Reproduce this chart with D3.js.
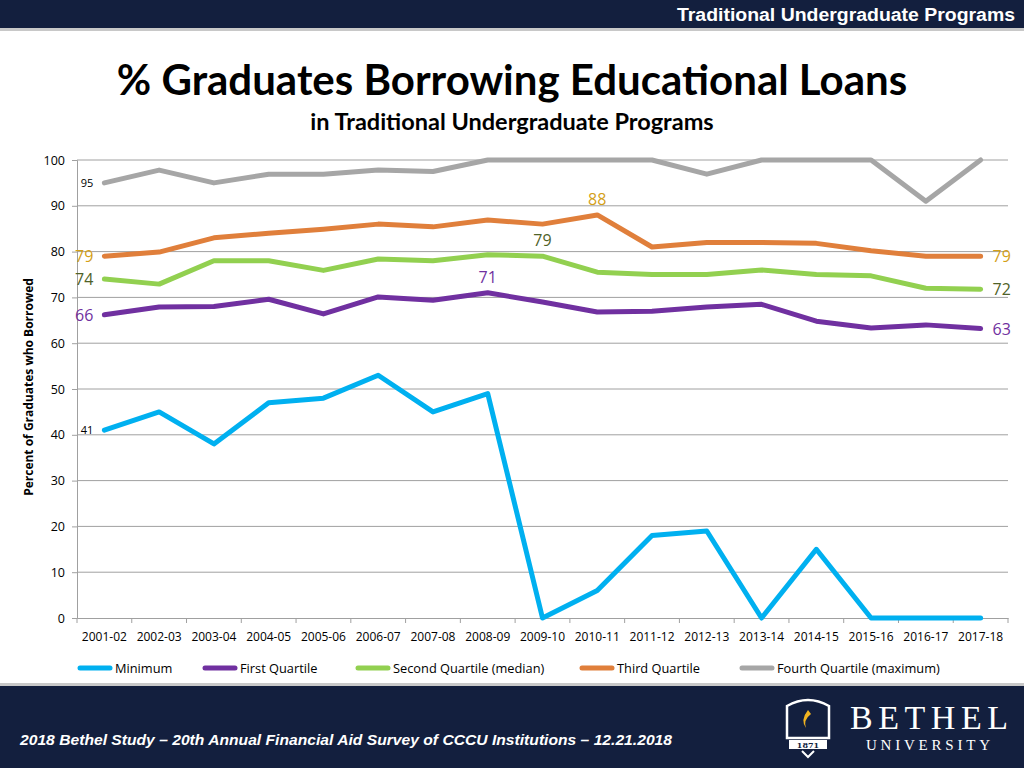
<!DOCTYPE html>
<html><head><meta charset="utf-8">
<script src="https://cdn.jsdelivr.net/npm/d3@7/dist/d3.min.js"></script>
<style>body{margin:0;background:#fff}svg{display:block}</style>
</head><body>
<svg id="c" width="1024" height="768"></svg>
<script>
const years = ["2001-02","2002-03","2003-04","2004-05","2005-06","2006-07","2007-08","2008-09","2009-10","2010-11","2011-12","2012-13","2013-14","2014-15","2015-16","2016-17","2017-18"];
const minimum = [41,45,38,47,48,53,45,49,0,6,18,19,0,15,0,0,0];
const firstQ = [66.2,67.9,68,69.6,66.4,70.1,69.4,71,69,66.8,67,67.9,68.5,64.8,63.3,64,63.2];
const secondQ = [74,72.9,78,78,75.9,78.4,78,79.3,79,75.5,75,75,76,75,74.7,72,71.8];
const thirdQ = [79,79.9,83,84,84.9,86,85.4,86.9,86,88,81,82,82,81.8,80.2,79,79];
const fourthQ = [95,97.8,95,96.9,96.9,97.8,97.5,100,100,100,100,96.9,100,100,100,91,100];
const seriesNames = ["Minimum","First Quartile","Second Quartile (median)","Third Quartile","Fourth Quartile (maximum)"];
const seriesColors = ["#00b0f0","#7030a0","#92d050","#e07f3b","#a6a6a6"];
const yTicks = [0,10,20,30,40,50,60,70,80,90,100];
// data labels: [seriesIndex, pointIndex, text, placement, color, size]
const dataLabels = [
  [4,0,"95","left","#000",11],
  [3,0,"79","left","#d4a017",16],
  [2,0,"74","left","#4f6228",16],
  [1,0,"66","left","#7030a0",16],
  [0,0,"41","left","#000",11],
  [3,9,"88","above","#d4a017",16],
  [2,8,"79","above","#4f6228",16],
  [1,7,"71","above","#7030a0",16],
  [3,16,"79","right","#d4a017",16],
  [2,16,"72","right","#4f6228",16],
  [1,16,"63","right","#7030a0",16]
];
const allSeries = [minimum, firstQ, secondQ, thirdQ, fourthQ];

const svg = d3.select("#c");
const F = "'Open Sans', sans-serif";

// header
svg.append("rect").attr("x",0).attr("y",0).attr("width",1024).attr("height",28).attr("fill","#131f3e");
svg.append("rect").attr("x",0).attr("y",28).attr("width",1024).attr("height",3).attr("fill","#c8c8c8");
svg.append("text").attr("x",677).attr("y",21).attr("fill","#fff")
  .attr("font-family","'Liberation Sans', Arial, sans-serif").attr("font-weight","bold").attr("font-size",18)
  .attr("textLength",338).attr("lengthAdjust","spacingAndGlyphs")
  .text("Traditional Undergraduate Programs");

// title
svg.append("text").attr("x",512).attr("y",95).attr("text-anchor","middle").attr("font-family","Lato, sans-serif")
  .attr("font-weight","bold").attr("font-size",42).attr("fill","#000").text("% Graduates Borrowing Educational Loans");
svg.append("text").attr("x",512).attr("y",130).attr("text-anchor","middle").attr("font-family","Lato, sans-serif")
  .attr("font-weight","bold").attr("font-size",23.5).attr("fill","#000").text("in Traditional Undergraduate Programs");

const L=77, R=1008, T=160, B=618;
const x = d3.scaleBand().domain(years).range([L,R]);
const y = d3.scaleLinear().domain([0,100]).range([B,T]);
const cx = d => x(d)+x.bandwidth()/2;

// grid
svg.append("g").selectAll("line").data(yTicks.filter(d=>d>0)).join("line")
  .attr("x1",L).attr("x2",R).attr("y1",d=>y(d)).attr("y2",d=>y(d)).attr("stroke","#a0a0a0").attr("stroke-width",1);

// y axis
const ya = svg.append("g").attr("transform",`translate(${L},0)`).call(d3.axisLeft(y).tickValues(yTicks).tickSize(5).tickPadding(7));
ya.selectAll("path,line").attr("stroke","#a0a0a0");
ya.selectAll("text").attr("font-family",F).attr("font-size",12.5).attr("fill","#000");
// x axis
const xa = svg.append("g").attr("transform",`translate(0,${B})`).call(d3.axisBottom(x).tickSize(0).tickPadding(14));
xa.select("path").attr("stroke","#a0a0a0");
xa.selectAll("text").attr("font-family",F).attr("font-size",12).attr("fill","#000");
svg.append("g").selectAll("line").data(years.concat(["end"])).join("line")
  .attr("x1",(d,i)=>L+i*x.bandwidth()).attr("x2",(d,i)=>L+i*x.bandwidth())
  .attr("y1",B).attr("y2",B+5).attr("stroke","#a0a0a0");

svg.append("text").attr("transform","translate(33,387) rotate(-90)").attr("text-anchor","middle")
  .attr("font-family",F).attr("font-weight","bold").attr("font-size",12).attr("fill","#000").text("Percent of Graduates who Borrowed");

// lines
const line = d3.line().x((d,i)=>cx(years[i])).y(d=>y(d));
svg.append("g").selectAll("path").data(allSeries).join("path")
  .attr("d",d=>line(d)).attr("fill","none").attr("stroke",(d,i)=>seriesColors[i])
  .attr("stroke-width",5).attr("stroke-linejoin","round").attr("stroke-linecap","round");

// data labels
svg.append("g").selectAll("text").data(dataLabels).join("text")
  .attr("x",d=>{const px=cx(years[d[1]]); return d[3]==="left"?px-11:d[3]==="right"?px+12:px;})
  .attr("y",d=>{const py=y(allSeries[d[0]][d[1]]); return d[3]==="above"?py-10:py+(d[5]>12?6:4);})
  .attr("text-anchor",d=>d[3]==="left"?"end":d[3]==="right"?"start":"middle")
  .attr("font-family",F).attr("font-size",d=>d[5]).attr("fill",d=>d[4]).text(d=>d[2]);

// legend
const legX = [80,205,358,582,742];
const lg = svg.append("g").selectAll("g").data(seriesNames).join("g").attr("transform",(d,i)=>`translate(${legX[i]},668)`);
lg.append("line").attr("x1",0).attr("x2",30).attr("stroke",(d,i)=>seriesColors[i]).attr("stroke-width",5).attr("stroke-linecap","round");
lg.append("text").attr("x",35).attr("y",5).attr("font-family",F).attr("font-size",12.8).attr("fill","#000").text(d=>d);

// footer
svg.append("rect").attr("x",0).attr("y",683).attr("width",1024).attr("height",3).attr("fill","#c8c8c8");
svg.append("rect").attr("x",0).attr("y",686).attr("width",1024).attr("height",82).attr("fill","#131f3e");
svg.append("text").attr("x",20).attr("y",745).attr("fill","#fff").attr("font-family","'Liberation Sans', Arial, sans-serif")
  .attr("font-weight","bold").attr("font-style","italic").attr("font-size",15)
  .attr("textLength",652).attr("lengthAdjust","spacingAndGlyphs")
  .text("2018 Bethel Study – 20th Annual Financial Aid Survey of CCCU Institutions – 12.21.2018");
// logo
const lgo = svg.append("g");
lgo.append("path").attr("d","M787,706 Q808,694 829,706 L829,738 L787,738 Z").attr("fill","none").attr("stroke","#fff").attr("stroke-width",2.5);
lgo.append("path").attr("d","M808,710 Q800,720 806,728 Q803,720 811,714 Z").attr("fill","#f2b420");
lgo.append("rect").attr("x",789).attr("y",740).attr("width",38).attr("height",9).attr("fill","#fff");
lgo.append("text").attr("x",808).attr("y",748).attr("text-anchor","middle").attr("font-size",8).attr("font-family","'DejaVu Serif'").attr("font-weight","bold").attr("fill","#131f3e").text("1871");
lgo.append("path").attr("d","M802,751 L808,757 L814,751").attr("fill","none").attr("stroke","#fff").attr("stroke-width",2);
lgo.append("text").attr("x",850).attr("y",729).attr("fill","#fff").attr("font-family","'Liberation Serif', serif").attr("font-size",34)
  .attr("textLength",158).attr("lengthAdjust","spacing").text("BETHEL");
lgo.append("text").attr("x",866).attr("y",750).attr("fill","#fff").attr("font-family","'Liberation Serif', serif").attr("font-size",15)
  .attr("textLength",124).attr("lengthAdjust","spacing").text("UNIVERSITY");
</script>
</body></html>
